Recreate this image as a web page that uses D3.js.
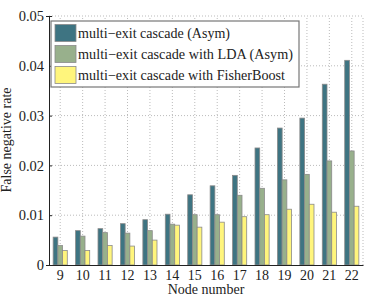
<!DOCTYPE html>
<html><head><meta charset="utf-8">
<script src="https://cdn.jsdelivr.net/npm/d3@7"></script>
<style>body{margin:0;background:#fff}svg{display:block}text{font-family:"Liberation Serif","Times New Roman",serif}</style>
</head><body>
<script>
const categories = ["9","10","11","12","13","14","15","16","17","18","19","20","21","22"];
const seriesNames = ["multi\u2212exit cascade (Asym)","multi\u2212exit cascade with LDA (Asym)","multi\u2212exit cascade with FisherBoost"];
const asym = [0.0056,0.0069,0.0073,0.0083,0.0091,0.0102,0.0141,0.0159,0.0180,0.0235,0.0275,0.0295,0.0363,0.0411];
const lda = [0.0039,0.0058,0.0065,0.0064,0.0069,0.0082,0.0101,0.0101,0.0140,0.0154,0.0171,0.0182,0.0209,0.0229];
const fisher = [0.0029,0.0029,0.0039,0.0038,0.0050,0.0080,0.0076,0.0086,0.0097,0.0101,0.0112,0.0122,0.0106,0.0118];
const yTicks = [0,0.01,0.02,0.03,0.04,0.05];
const colors = ["#3e7482","#98b08c","#fff57c"];
const series = [asym, lda, fisher];

const FONT = "Liberation Serif";
const W=374,H=298, m={l:49,r:11,t:16,b:33};
const svg=d3.select("body").append("svg").attr("width",W).attr("height",H);
const x=d3.scaleBand().domain(categories).range([m.l,W-m.r]).padding(0);
const y=d3.scaleLinear().domain([0,0.05]).range([H-m.b,m.t]);
const inner=d3.scaleBand().domain(d3.range(3)).range([0,x.bandwidth()*0.63]);
const off=(x.bandwidth()-x.bandwidth()*0.63)/2;

// grid
const g=svg.append("g");
g.selectAll("line.gy").data(yTicks.slice(1)).join("line")
  .attr("x1",m.l).attr("x2",W-m.r).attr("y1",d=>y(d)).attr("y2",d=>y(d))
  .attr("stroke","#bbb").attr("stroke-width",1).attr("stroke-dasharray","1,2");
g.selectAll("line.gx").data(categories).join("line")
  .attr("x1",d=>x(d)+x.bandwidth()/2).attr("x2",d=>x(d)+x.bandwidth()/2)
  .attr("y1",y(0)).attr("y2",m.t)
  .attr("stroke","#bbb").attr("stroke-width",1).attr("stroke-dasharray","1,2");
svg.append("line").attr("x1",W-m.r).attr("x2",W-m.r).attr("y1",y(0)).attr("y2",m.t)
  .attr("stroke","#bbb").attr("stroke-dasharray","1,2");

// bars
series.forEach((s,i)=>{
  svg.append("g").selectAll("rect").data(s).join("rect")
    .attr("x",(d,j)=>x(categories[j])+off+inner(i))
    .attr("width",inner.bandwidth())
    .attr("y",d=>y(d)).attr("height",d=>y(0)-y(d))
    .attr("fill",colors[i]).attr("stroke","#8a8a8a").attr("stroke-width",0.8);
});

// axes
const ax=svg.append("g").attr("transform",`translate(0,${y(0)})`)
  .call(d3.axisBottom(x).tickSize(0).tickPadding(5));
ax.attr("font-family",FONT);
ax.select(".domain").attr("stroke","#222");
ax.selectAll("text").attr("font-size",14).attr("fill","#222").attr("font-family",FONT);
const ay=svg.append("g").attr("transform",`translate(${m.l},0)`)
  .call(d3.axisLeft(y).tickValues(yTicks).tickSize(3).tickFormat(d=>d===0?"0":d3.format(".2f")(d)).tickPadding(2));
ay.attr("font-family",FONT);
ay.select(".domain").attr("stroke","#222");
ay.selectAll(".tick line").attr("stroke","#222").attr("x2",3);
ay.selectAll("text").attr("font-size",14.5).attr("fill","#222").attr("font-family",FONT);

svg.append("text").attr("x",(m.l+W-m.r)/2).attr("y",294).attr("text-anchor","middle")
  .attr("font-family",FONT).attr("font-size",14).attr("fill","#222").text("Node number");
svg.append("text").attr("transform",`translate(11,140) rotate(-90)`).attr("text-anchor","middle")
  .attr("font-family",FONT).attr("font-size",14).attr("fill","#222").text("False negative rate");

// legend
const legendWidths=[152,215,207];
const lg=svg.append("g").attr("transform","translate(51,21)");
lg.append("rect").attr("width",248).attr("height",66).attr("fill","#fff")
  .attr("stroke","#777").attr("stroke-width",1.2);
seriesNames.forEach((n,i)=>{
  lg.append("rect").attr("x",4).attr("y",3.5+i*21).attr("width",21).attr("height",17)
    .attr("fill",colors[i]).attr("stroke","#8a8a8a").attr("stroke-width",0.8);
  lg.append("text").attr("x",27).attr("y",17+i*21).attr("font-family",FONT)
    .attr("font-size",14.5).attr("fill","#222")
    .attr("textLength",legendWidths[i]).attr("lengthAdjust","spacingAndGlyphs").text(n);
});
</script>
</body></html>
